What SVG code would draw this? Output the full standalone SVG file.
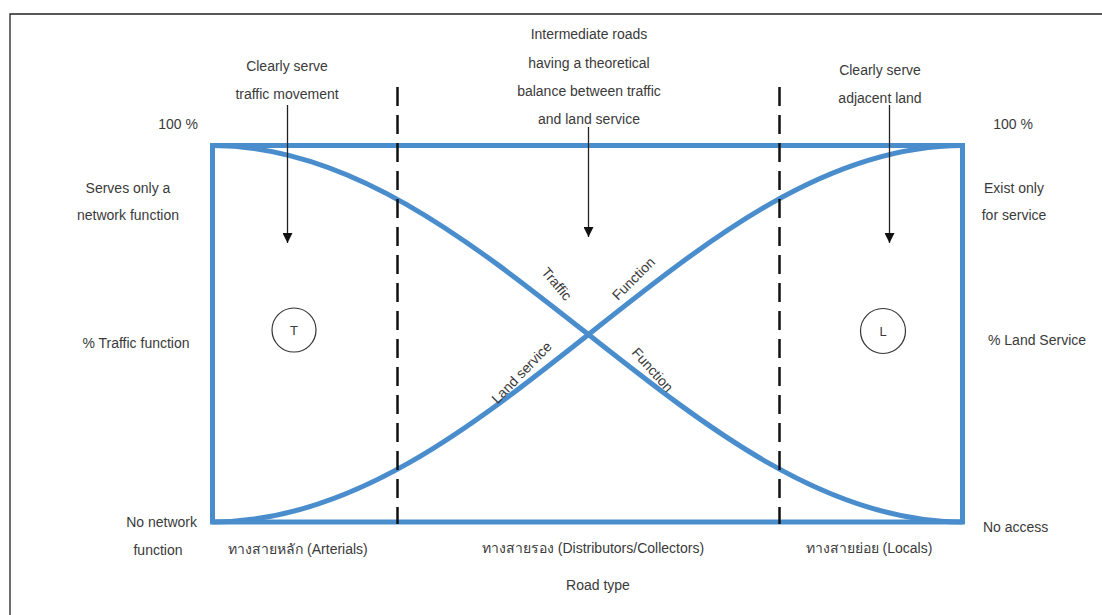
<svg xmlns="http://www.w3.org/2000/svg" width="1102" height="615" viewBox="0 0 1102 615">
<defs>
<style>
text{font-family:"Liberation Sans",Arial,sans-serif;font-size:14px;fill:#3a3a3a}
.c{text-anchor:middle}
.r{text-anchor:end}
.blue{fill:none;stroke:#4a8dcc;stroke-width:5}
.dash{stroke:#111;stroke-width:2.5;stroke-dasharray:19 9;fill:none}
.arr{stroke:#222;stroke-width:1.3;fill:none;marker-end:url(#ah)}
.circ{fill:#fff;stroke:#333;stroke-width:1.2}
</style>
<marker id="ah" viewBox="0 0 10 10" refX="10" refY="5" markerWidth="10" markerHeight="10" markerUnits="userSpaceOnUse" orient="auto">
<path d="M0,0 L10,5 L0,10 z" fill="#111"/>
</marker>
</defs>
<rect width="1102" height="615" fill="#fff"/>
<path d="M10,615 V14 H1102" fill="none" stroke="#222" stroke-width="1.3"/>

<g id="chart">
<rect class="blue" x="212.5" y="145.5" width="750" height="376.5"/>
<path class="blue" d="M212.5,145.5 C485,145.5 690,522 962.5,522"/>
<path class="blue" d="M212.5,522 C490,522 690,145.5 962.5,145.5"/>
</g>

<g id="connectors">
<line class="dash" x1="397.5" y1="87" x2="397.5" y2="524"/>
<line class="dash" x1="779.5" y1="87" x2="779.5" y2="524"/>
<line class="arr" x1="287.5" y1="105" x2="287.5" y2="243"/>
<line class="arr" x1="588.5" y1="127" x2="588.5" y2="237"/>
<line class="arr" x1="889.5" y1="105" x2="889.5" y2="243"/>
</g>

<g id="node-T">
<circle class="circ" cx="294" cy="330" r="22"/>
<text class="c" x="294" y="335" style="font-size:13px">T</text>
</g>
<g id="node-L">
<circle class="circ" cx="883" cy="331" r="22.5"/>
<text class="c" x="883" y="336" style="font-size:13px">L</text>
</g>

<g id="top-labels">
<text class="c" x="287" y="71">Clearly serve</text>
<text class="c" x="287" y="99">traffic movement</text>
<text class="c" x="589" y="39">Intermediate roads</text>
<text class="c" x="589" y="68">having a theoretical</text>
<text class="c" x="589" y="96">balance between traffic</text>
<text class="c" x="589" y="124">and land service</text>
<text class="c" x="880" y="75">Clearly serve</text>
<text class="c" x="880" y="103">adjacent land</text>
</g>

<g id="left-labels">
<text class="c" x="178" y="129">100 %</text>
<text class="c" x="128" y="193">Serves only a</text>
<text class="c" x="128" y="220">network function</text>
<text class="c" x="136" y="348">% Traffic function</text>
<text class="r" x="197" y="527">No network</text>
<text class="c" x="158" y="555">function</text>
</g>

<g id="right-labels">
<text class="c" x="1013" y="129">100 %</text>
<text class="c" x="1014" y="193">Exist only</text>
<text class="c" x="1014" y="220">for service</text>
<text x="988" y="345">% Land Service</text>
<text x="983" y="532">No access</text>
</g>

<g id="bottom-labels">
<text class="c" x="298" y="554">ทางสายหลัก (Arterials)</text>
<text class="c" x="593" y="553">ทางสายรอง (Distributors/Collectors)</text>
<text class="c" x="869" y="553">ทางสายย่อย (Locals)</text>
<text class="c" x="598" y="590">Road type</text>
</g>

<g id="curve-labels">
<text class="c" transform="translate(553,287) rotate(50)">Traffic</text>
<text class="c" transform="translate(637,282) rotate(-45)">Function</text>
<text class="c" transform="translate(525,376) rotate(-46)">Land service</text>
<text class="c" transform="translate(649,373) rotate(48)">Function</text>
</g>
</svg>
